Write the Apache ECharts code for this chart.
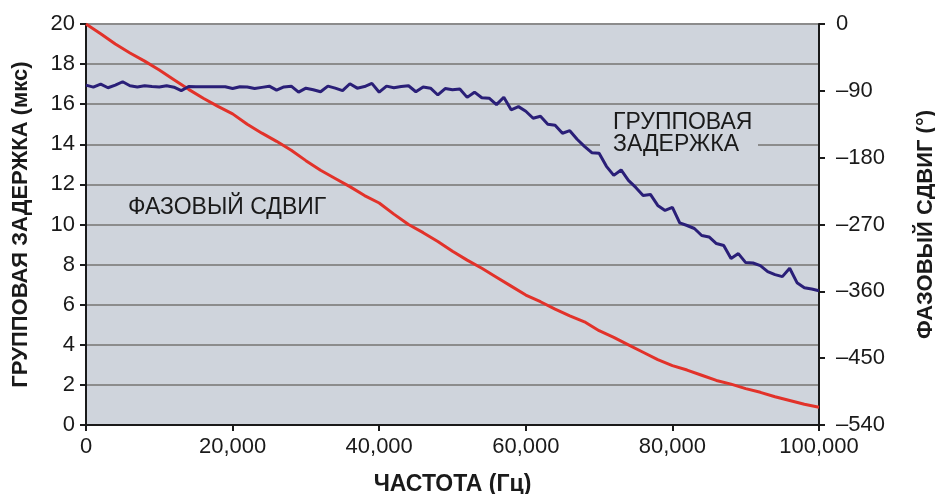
<!DOCTYPE html>
<html><head><meta charset="utf-8">
<script src="https://cdn.jsdelivr.net/npm/echarts@6/dist/echarts.min.js"></script>
<style>html,body{margin:0;padding:0;background:#fff}#c{width:935px;height:494px}</style>
</head><body><div id="c"></div>
<script>
// Group delay (µs), left axis
const delayFreqHz = [0,1000,2000,3000,4000,5000,6000,7000,8000,9000,10000,11000,12000,13000,14000,15000,16000,17000,18000,19000,20000,21000,22000,23000,24000,25000,26000,27000,28000,29000,30000,31000,32000,33000,34000,35000,36000,37000,38000,39000,40000,41000,42000,43000,44000,45000,46000,47000,48000,49000,50000,51000,52000,53000,54000,55000,56000,57000,58000,59000,60000,61000,62000,63000,64000,65000,66000,67000,68000,69000,70000,71000,72000,73000,74000,75000,76000,77000,78000,79000,80000,81000,82000,83000,84000,85000,86000,87000,88000,89000,90000,91000,92000,93000,94000,95000,96000,97000,98000,99000,100000];
const groupDelay = [16.95,16.85,17.0,16.82,16.95,17.12,16.92,16.86,16.92,16.88,16.86,16.92,16.85,16.68,16.88,16.87,16.87,16.87,16.87,16.87,16.78,16.87,16.86,16.78,16.84,16.90,16.70,16.86,16.90,16.60,16.80,16.72,16.62,16.90,16.80,16.68,17.02,16.80,16.88,17.04,16.60,16.90,16.82,16.88,16.92,16.62,16.86,16.80,16.46,16.78,16.72,16.76,16.34,16.60,16.32,16.30,15.98,16.35,15.72,15.88,15.65,15.30,15.40,15.00,14.95,14.55,14.68,14.25,13.90,13.58,13.55,12.90,12.45,12.72,12.20,11.85,11.45,11.50,10.95,10.70,10.85,10.08,9.95,9.80,9.45,9.38,9.05,8.95,8.30,8.55,8.10,8.08,7.95,7.65,7.50,7.40,7.82,7.10,6.85,6.78,6.70];
// Phase shift (degrees), right axis
const phaseFreqHz = [0,2000,4000,6000,8000,10000,12000,14000,16000,18000,20000,22000,24000,26000,28000,30000,32000,34000,36000,38000,40000,42000,44000,46000,48000,50000,52000,54000,56000,58000,60000,62000,64000,66000,68000,70000,72000,74000,76000,78000,80000,82000,84000,86000,88000,90000,92000,94000,96000,98000,100000];
const phaseDeg = [0,-13,-27,-39,-50,-62,-75,-88,-100,-111,-121,-135,-147,-158,-170,-184,-197,-208,-219,-231,-241,-256,-270,-281,-293,-306,-318,-329,-341,-353,-365,-374,-384,-393,-401,-413,-422,-432,-442,-452,-460,-466,-473,-480,-485,-491,-496,-502,-507,-512,-516];
const xTicks = {min:0, max:100000, interval:20000};
const leftTicks = {min:0, max:20, interval:2};
const rightTicks = {min:-540, max:0, interval:90};

const FONT = '"Liberation Sans", Arial, sans-serif';
const chart = echarts.init(document.getElementById('c'));
const axisLine = {show:true, lineStyle:{color:'#1a1a1a', width:2}};
const tick = {show:true, length:6, lineStyle:{color:'#1a1a1a', width:2}};
chart.setOption({
  animation:false,
  grid:{left:86, right:116, top:24, bottom:69, show:true, backgroundColor:'#CFD4DC', borderWidth:0,
    containLabel:false, outerBoundsMode:'none'},
  xAxis:{type:'value', min:xTicks.min, max:xTicks.max, interval:xTicks.interval,
    axisLine:axisLine, axisTick:tick, splitLine:{show:false},
    axisLabel:{color:'#1a1a1a', fontFamily:FONT, fontSize:22, margin:11,
      formatter:v=>v.toLocaleString('en-US')},
    name:'ЧАСТОТА (Гц)', nameLocation:'middle', nameGap:48,
    nameTextStyle:{color:'#1a1a1a', fontFamily:FONT, fontSize:23, fontWeight:'bold'}},
  yAxis:[
    {type:'value', min:leftTicks.min, max:leftTicks.max, interval:leftTicks.interval, position:'left',
      axisLine:axisLine, axisTick:tick,
      splitLine:{show:true, lineStyle:{color:'#8c8c8c', width:2}},
      axisLabel:{color:'#1a1a1a', fontFamily:FONT, fontSize:22, margin:11},
      name:'ГРУППОВАЯ ЗАДЕРЖКА (мкс)', nameLocation:'middle', nameGap:54,
      nameTextStyle:{color:'#1a1a1a', fontFamily:FONT, fontSize:22, fontWeight:'bold'}},
    {type:'value', min:rightTicks.min, max:rightTicks.max, interval:rightTicks.interval, position:'right',
      axisLine:axisLine, axisTick:tick, splitLine:{show:false},
      axisLabel:{color:'#1a1a1a', fontFamily:FONT, fontSize:22, margin:17,
        formatter:v=>String(v).replace('-','\u2013')},
      name:'ФАЗОВЫЙ СДВИГ (°)', nameLocation:'middle', nameGap:96, nameRotate:90,
      nameTextStyle:{color:'#1a1a1a', fontFamily:FONT, fontSize:22, fontWeight:'bold'}}
  ],
  series:[
    {type:'line', yAxisIndex:1, showSymbol:false, data:phaseFreqHz.map((f,i)=>[f,phaseDeg[i]]),
      lineStyle:{color:'#E2322A', width:3}, z:3},
    {type:'line', yAxisIndex:0, showSymbol:false, data:delayFreqHz.map((f,i)=>[f,groupDelay[i]]),
      lineStyle:{color:'#2A1F78', width:3}, z:4}
  ],
  graphic:[
    {type:'text', left:128, top:196, style:{text:'ФАЗОВЫЙ СДВИГ', font:'23px '+FONT, fill:'#1a1a1a'}},
    {type:'rect', left:600, top:112, shape:{width:158, height:48}, style:{fill:'#CFD4DC'}, z:2},
    {type:'text', left:613, top:111, z:10, style:{text:'ГРУППОВАЯ\nЗАДЕРЖКА', font:'23px '+FONT, fill:'#1a1a1a', lineHeight:22}}
  ]
});
</script></body></html>
